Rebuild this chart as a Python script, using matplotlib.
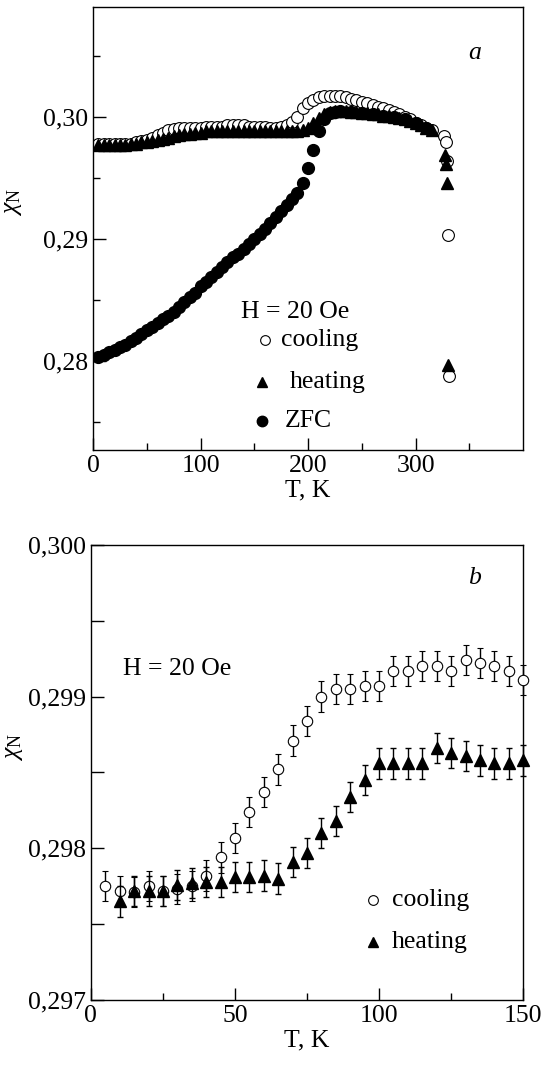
import matplotlib
matplotlib.use("Agg")
import matplotlib.pyplot as plt
import matplotlib.ticker as mticker

# ── Data: panel a (wide temperature range) ─────────────────────────────────
t_cool_a = [5, 10, 15, 20, 25, 30, 35, 40, 45, 50, 55, 60, 65, 70, 75, 80,
            85, 90, 95, 100, 105, 110, 115, 120, 125, 130, 135, 140, 145, 150,
            155, 160, 165, 170, 175, 180, 185, 190, 195, 200, 205, 210, 215,
            220, 225, 230, 235, 240, 245, 250, 255, 260, 265, 270, 275, 280,
            285, 290, 295, 300, 305, 310, 315, 326, 328, 329, 330, 331]
chi_cool_a = [0.2978, 0.2978, 0.2978, 0.2978, 0.2978, 0.2978, 0.2978, 0.2979,
              0.2980, 0.2981, 0.2983, 0.2985, 0.2987, 0.2989, 0.2990, 0.2991,
              0.2991, 0.2991, 0.2991, 0.2991, 0.2992, 0.2992, 0.2992, 0.2992,
              0.2993, 0.2993, 0.2993, 0.2993, 0.2992, 0.2992, 0.2992, 0.2992,
              0.2991, 0.2991, 0.2992, 0.2993, 0.2996, 0.3000, 0.3007, 0.3011,
              0.3014, 0.3016, 0.3017, 0.3017, 0.3017, 0.3017, 0.3016, 0.3015,
              0.3014, 0.3012, 0.3011, 0.3010, 0.3008, 0.3007, 0.3006, 0.3004,
              0.3002, 0.3000, 0.2998, 0.2995, 0.2993, 0.2991, 0.2989,
              0.2984, 0.2979, 0.2964, 0.2903, 0.2788]

t_heat_a = [5, 10, 15, 20, 25, 30, 35, 40, 45, 50, 55, 60, 65, 70, 75, 80,
            85, 90, 95, 100, 105, 110, 115, 120, 125, 130, 135, 140, 145, 150,
            155, 160, 165, 170, 175, 180, 185, 190, 195, 200, 205, 210, 215,
            220, 225, 230, 235, 240, 245, 250, 255, 260, 265, 270, 275, 280,
            285, 290, 295, 300, 305, 310, 315, 327, 328, 329, 330]
chi_heat_a = [0.2977, 0.2977, 0.2977, 0.2977, 0.2977, 0.2977, 0.2978, 0.2978,
              0.2979, 0.2979, 0.2980, 0.2981, 0.2982, 0.2983, 0.2984, 0.2985,
              0.2986, 0.2986, 0.2987, 0.2987, 0.2988, 0.2988, 0.2988, 0.2988,
              0.2988, 0.2988, 0.2988, 0.2988, 0.2988, 0.2988, 0.2988, 0.2988,
              0.2988, 0.2988, 0.2988, 0.2988, 0.2988, 0.2988, 0.2989, 0.2991,
              0.2995, 0.2999, 0.3002, 0.3004, 0.3005, 0.3005, 0.3005, 0.3004,
              0.3004, 0.3003, 0.3003, 0.3002, 0.3002, 0.3001, 0.3001, 0.3000,
              0.2999, 0.2998, 0.2997, 0.2995, 0.2993, 0.2991, 0.2989,
              0.2969, 0.2961, 0.2946, 0.2797]

t_zfc_a = [5, 10, 15, 20, 25, 30, 35, 40, 45, 50, 55, 60, 65, 70, 75, 80,
           85, 90, 95, 100, 105, 110, 115, 120, 125, 130, 135, 140, 145, 150,
           155, 160, 165, 170, 175, 180, 185, 190, 195, 200, 205, 210, 215,
           220, 225, 230, 240, 250, 260, 270, 280, 290, 300, 310]
chi_zfc_a = [0.2803, 0.2805, 0.2807, 0.2809, 0.2811, 0.2813, 0.2816, 0.2819,
             0.2822, 0.2825, 0.2828, 0.2831, 0.2834, 0.2837, 0.2840, 0.2844,
             0.2848, 0.2852, 0.2856, 0.2861, 0.2865, 0.2869, 0.2873, 0.2877,
             0.2881, 0.2885, 0.2888, 0.2892, 0.2896, 0.2900, 0.2904, 0.2908,
             0.2913, 0.2918, 0.2923, 0.2928, 0.2933, 0.2938, 0.2946, 0.2958,
             0.2973, 0.2988, 0.2998, 0.3003, 0.3004, 0.3005, 0.3004, 0.3003,
             0.3002, 0.3001, 0.3000, 0.2998, 0.2995, 0.2991]

# ── Data: panel b (low temperature, with error bars) ───────────────────────
t_cool_b = [5, 10, 15, 20, 25, 30, 35, 40, 45, 50, 55, 60, 65, 70, 75, 80,
            85, 90, 95, 100, 105, 110, 115, 120, 125, 130, 135, 140, 145, 150]
chi_cool_b = [0.29775, 0.29772, 0.29771, 0.29775, 0.29772, 0.29773, 0.29775,
              0.29782, 0.29794, 0.29807, 0.29824, 0.29837, 0.29852, 0.29871,
              0.29884, 0.29900, 0.29905, 0.29905, 0.29907, 0.29907, 0.29917,
              0.29917, 0.29920, 0.29920, 0.29917, 0.29924, 0.29922, 0.29920,
              0.29917, 0.29911]
err_cool_b = [0.0001] * len(t_cool_b)

t_heat_b = [10, 15, 20, 25, 30, 35, 40, 45, 50, 55, 60, 65, 70, 75, 80, 85,
            90, 95, 100, 105, 110, 115, 120, 125, 130, 135, 140, 145, 150]
chi_heat_b = [0.29765, 0.29772, 0.29772, 0.29772, 0.29776, 0.29777, 0.29778,
              0.29778, 0.29781, 0.29781, 0.29782, 0.29780, 0.29791, 0.29797,
              0.29810, 0.29818, 0.29834, 0.29845, 0.29856, 0.29856, 0.29856,
              0.29856, 0.29866, 0.29863, 0.29861, 0.29858, 0.29856, 0.29856,
              0.29858]
err_heat_b = [0.0001] * len(t_heat_b)

FONT = "Liberation Serif"
FS = 18.5

plt.rcParams.update({
    "font.family": FONT,
    "font.size": FS,
    "mathtext.fontset": "custom",
    "mathtext.rm": FONT,
    "mathtext.it": FONT + ":italic",
    "axes.linewidth": 1.0,
    "xtick.direction": "in",
    "ytick.direction": "in",
})


def comma_fmt(decimals):
    return mticker.FuncFormatter(lambda v, _: f"{v:.{decimals}f}".replace(".", ","))


fig = plt.figure(figsize=(5.41, 10.68), dpi=100)
ax_a = fig.add_axes([0.172, 0.5787, 0.795, 0.4147])
ax_b = fig.add_axes([0.168, 0.0637, 0.799, 0.426])

# ── Panel a ──
ax_a.plot(t_cool_a, chi_cool_a, ls="none", marker="o", ms=8.5, mfc="white",
          mec="black", mew=0.8, zorder=2)
ax_a.plot(t_zfc_a, chi_zfc_a, ls="none", marker="o", ms=8.5, color="black",
          zorder=3)
ax_a.plot(t_heat_a, chi_heat_a, ls="none", marker="^", ms=8.5, color="black",
          zorder=4)

ax_a.set_xlim(0, 400)
ax_a.set_ylim(0.2727, 0.3090)
ax_a.set_xticks([0, 100, 200, 300])
ax_a.set_xticks([50, 150, 250, 350], minor=True)
ax_a.set_yticks([0.28, 0.29, 0.30])
ax_a.set_yticks([0.275, 0.285, 0.295, 0.305], minor=True)
ax_a.yaxis.set_major_formatter(comma_fmt(2))
ax_a.tick_params(which="major", length=9, width=1, top=False, right=False)
ax_a.tick_params(which="minor", length=5, width=1, top=False, right=False)
ax_a.set_xlabel("T, K", labelpad=2)
ax_a.set_ylabel(r"$\chi_\mathrm{N}$")
ax_a.yaxis.set_label_coords(-0.16, 0.56)

ax_a.text(355, 0.30525, "a", style="italic", ha="center", va="center")
ax_a.text(138, 0.2840, "H = 20 Oe", ha="left", va="center")
ax_a.plot([160], [0.28172], ls="none", marker="o", ms=7, mfc="white",
          mec="black", mew=0.8)
ax_a.text(175, 0.28172, "cooling", ha="left", va="center")
ax_a.plot([157], [0.27828], ls="none", marker="^", ms=7.5, color="black")
ax_a.text(183, 0.27828, "heating", ha="left", va="center")
ax_a.plot([157], [0.27508], ls="none", marker="o", ms=7.5, color="black")
ax_a.text(178, 0.27508, "ZFC", ha="left", va="center")

# ── Panel b ──
cool = ax_b.errorbar(t_cool_b, chi_cool_b, yerr=err_cool_b, fmt="o", ms=7.5,
                     mfc="white", mec="black", mew=0.8, ecolor="black",
                     elinewidth=1, capsize=2.5, capthick=1, zorder=3)
heat = ax_b.errorbar(t_heat_b, chi_heat_b, yerr=err_heat_b, fmt="^", ms=8,
                     color="black", ecolor="black", elinewidth=1, capsize=2.5,
                     capthick=1, zorder=4)
for container in (cool, heat):
    for artist in container.get_children():
        artist.set_clip_on(False)

ax_b.set_xlim(0, 150)
ax_b.set_ylim(0.297, 0.300)
ax_b.set_xticks([0, 50, 100, 150])
ax_b.set_xticks([25, 75, 125], minor=True)
ax_b.set_yticks([0.297, 0.298, 0.299, 0.300])
ax_b.set_yticks([0.2975, 0.2985, 0.2995], minor=True)
ax_b.yaxis.set_major_formatter(comma_fmt(3))
ax_b.tick_params(which="major", length=9, width=1, top=False, right=False)
ax_b.tick_params(axis="x", which="minor", length=5, width=1, top=False)
ax_b.tick_params(axis="y", which="minor", length=9, width=1, right=False)
ax_b.set_xlabel("T, K", labelpad=2)
ax_b.set_ylabel(r"$\chi_\mathrm{N}$")
ax_b.yaxis.set_label_coords(-0.153, 0.556)

ax_b.text(133, 0.29978, "b", style="italic", ha="center", va="center")
ax_b.text(11, 0.29918, "H = 20 Oe", ha="left", va="center")
ax_b.plot([98], [0.29766], ls="none", marker="o", ms=7, mfc="white",
          mec="black", mew=0.8)
ax_b.text(104.5, 0.29766, "cooling", ha="left", va="center")
ax_b.plot([98], [0.29738], ls="none", marker="^", ms=7.5, color="black")
ax_b.text(104.5, 0.29738, "heating", ha="left", va="center")

fig.savefig("out.png", dpi=100)
plt.close(fig)
